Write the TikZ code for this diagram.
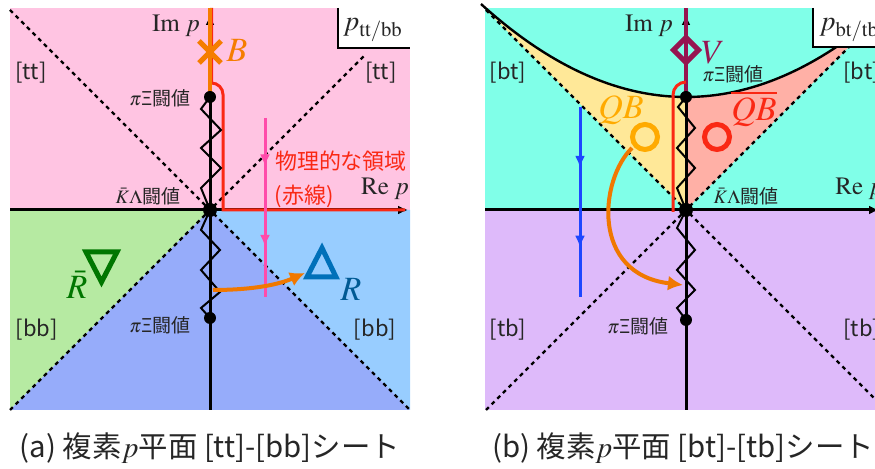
\documentclass[tikz,border=0pt]{standalone}
\usepackage{mathptmx}
\usepackage[no-math]{fontspec}
\setmainfont{Noto Sans CJK JP}
\definecolor{ttpink}{RGB}{255,196,226}
\definecolor{bbgreen}{RGB}{182,234,162}
\definecolor{bbblue}{RGB}{152,205,255}
\definecolor{bbmid}{RGB}{150,172,250}
\definecolor{btcyan}{RGB}{128,255,232}
\definecolor{tbviolet}{RGB}{222,186,250}
\definecolor{qbyellow}{RGB}{255,232,152}
\definecolor{qbsalmon}{RGB}{255,176,166}
\definecolor{physred}{RGB}{250,40,20}
\definecolor{bound}{RGB}{245,125,0}
\definecolor{flowpink}{RGB}{255,75,170}
\definecolor{flowblue}{RGB}{30,70,255}
\definecolor{vmag}{RGB}{150,20,80}
\definecolor{resblue}{RGB}{0,112,185}
\definecolor{resgreen}{RGB}{0,118,0}
\definecolor{qbamber}{RGB}{255,170,0}
\definecolor{pathorange}{RGB}{240,120,0}
\usetikzlibrary{arrows.meta, decorations.markings}

\begin{document}
\begin{tikzpicture}[x=0.5pt, y=0.5pt,
        every node/.style={inner sep=0pt, text=black!85},
        axis/.style={line width=1.5pt, -{Latex[length=5pt, width=4.5pt]}},
        sheetline/.style={line width=1.2pt, dash pattern=on 2pt off 2pt},
        cut/.style={line width=1pt, line join=miter},
        thr/.style={fill=black},
        phys/.style={physred, line width=1.5pt},
        midarrows/.style 2 args={line width=1.5pt, postaction={decorate},
            decoration={markings,
                mark=at position #1 with {\arrow{Latex[length=6pt, width=5pt]}},
                mark=at position #2 with {\arrow{Latex[length=6pt, width=5pt]}}}},
        contin/.style={pathorange, line width=2pt, -{Latex[length=7.5pt, width=7.5pt]}},
        pole/.style={line width=2.5pt},
        sheetlbl/.style={font=\fontsize{11}{13}\selectfont},
        thrlbl/.style={font=\fontsize{9.5}{11}\selectfont},
        axlbl/.style={font=\fontsize{12.5}{14}\selectfont},
        polelbl/.style={font=\fontsize{17}{19}\selectfont},
        caplbl/.style={font=\fontsize{14.7}{17}\selectfont}
    ]
    \useasboundingbox (0,0) rectangle (875,469);
    \clip (0,0) rectangle (875,469);

    % (a) tt/bb sheet
    \begin{scope}[shift={(210,259)}]
        \fill[ttpink] (-200,0) rectangle (200,202);
        \fill[bbgreen] (-200,0) -- (0,0) -- (-200,-200) -- cycle;
        \fill[bbblue] (0,0) -- (200,0) -- (200,-200) -- cycle;
        \fill[bbmid] (0,0) -- (-200,-200) -- (200,-200) -- cycle;

        \draw[sheetline] (-200,200) -- (0,0) -- (156,156);
        \draw[sheetline] (-200,-200) -- (0,0) -- (200,-200);

        \fill[white] (128,162) rectangle (200,202);
        \draw[line width=1pt] (128,202) -- (128,162) -- (200,162);
        \node[font=\fontsize{14}{16}\selectfont] (pa) at (163,180) {$p_{\mathrm{tt/bb}}$};

        \coordinate (Oa) at (0,0);
        \coordinate (PiXia) at (0,113);
        \coordinate (PiXib) at (0,-108);
        \draw[axis] (-200,0) -- (198,0);
        \draw[axis] (0,-200) -- (0,195);

        \draw[phys] (1.5,202) -- (1.5,127) arc[start angle=90, end angle=0, radius=11.5] -- (13,0) -- (195,0);
        \draw[bound, line width=2pt] (PiXia) -- (0,202);

        \draw[cut] (PiXia) -- (-9,101) -- (11,80) -- (-9,62) -- (11,42) -- (-9,22) -- (Oa);
        \draw[cut] (Oa) -- (-9,-20) -- (10,-40) -- (-9,-60) -- (10,-82) -- (-9,-98) -- (PiXib);
        \fill[thr] (PiXia) circle[radius=6];
        \fill[thr] (Oa) circle[radius=7];
        \fill[thr] (PiXib) circle[radius=6];

        \draw[flowpink, midarrows={0.27}{0.72}] (55,92) -- (55,-87);
        \draw[contin] (3,-80) .. controls (45,-80) and (70,-74) .. (95,-63);

        % bound state and resonances
        \draw[bound, pole] (-11,147) -- (11,169) (-11,169) -- (11,147);
        \node[polelbl, text=bound] (B) at (27,160) {$B$};
        \draw[resblue, pole, line join=miter] (112,-38) -- (126,-67) -- (97,-67) -- cycle;
        \node[polelbl, text=resblue!80!black] (R) at (141,-79) {$R$};
        \draw[resgreen, pole, line join=miter] (-124,-42) -- (-93,-42) -- (-108.5,-72) -- cycle;
        \node[polelbl, text=resgreen] (Rbar) at (-133,-75) {$\bar{R}$};

        \node[axlbl] (ImA) at (-34,184) {$\mathrm{Im}\ p$};
        \node[axlbl] (ReA) at (175,21) {$\mathrm{Re}\ p$};
        \node[sheetlbl] (ttL) at (-179,137) {[tt]};
        \node[sheetlbl] (ttR) at (171,137) {[tt]};
        \node[sheetlbl] (bbL) at (-173,-120) {[bb]};
        \node[sheetlbl] (bbR) at (165,-120) {[bb]};
        \node[thrlbl] (thrPiXiA) at (-50,112) {$\pi$Ξ闘値};
        \node[thrlbl] (thrKLA) at (-62,14) {$\bar{K}\Lambda$闘値};
        \node[thrlbl] (thrPiXiB) at (-50,-115) {$\pi$Ξ闘値};
        \node[sheetlbl, text=physred] (physA) at (131,49) {物理的な領域};
        \node[sheetlbl, text=physred] (physB) at (94,14) {(赤線)};
        \node[caplbl] (capA) at (0,-238) {(a) 複素$p$平面 [tt]-[bb]シート};
    \end{scope}

    % (b) bt/tb sheet
    \begin{scope}[shift={(686,259)}]
        \fill[btcyan] (-201,0) rectangle (200,202);
        \fill[tbviolet] (-201,-200) rectangle (200,0);
        \fill[qbyellow] (0,0) -- (-200,200) -- plot[domain=-200:0, samples=60] (\x,{113+(\x/21.26)*(\x/21.26)}) -- cycle;
        \fill[qbsalmon] (0,0) -- (200,200) -- plot[domain=200:0, samples=60] (\x,{113+(\x/21.26)*(\x/21.26)}) -- cycle;
        \draw[line width=1.2pt] plot[domain=-205:200, samples=100] (\x,{113+(\x/21.26)*(\x/21.26)});

        \draw[sheetline] (-200,200) -- (0,0) -- (200,200);
        \draw[sheetline] (-200,-200) -- (0,0) -- (200,-200);

        \fill[white] (127,163) rectangle (200,202);
        \draw[line width=1pt] (127,202) -- (127,163) -- (200,163);
        \node[font=\fontsize{14}{16}\selectfont, anchor=west] (pb) at (133,180) {$p_{\mathrm{bt/tb}}$};

        \coordinate (Ob) at (0,0);
        \coordinate (PiXic) at (0,113);
        \coordinate (PiXid) at (0,-110);
        \draw[axis] (-201,0) -- (193,0);
        \draw[axis] (0,-200) -- (0,195);
        \draw[vmag, line width=2pt] (PiXic) -- (0,202);
        \draw[phys] (0,128) arc[start angle=90, end angle=180, radius=13] -- (-13,-2);

        \draw[cut] (PiXic) -- (-8,103) -- (9,82) -- (-9,62) -- (9,42) -- (-9,22) -- (Ob);
        \draw[cut] (Ob) -- (-9,-18) -- (9,-40) -- (-9,-60) -- (9,-80) -- (-9,-98) -- (PiXid);
        \fill[thr] (PiXic) circle[radius=6];
        \fill[thr] (Ob) circle[radius=7];
        \fill[thr] (PiXid) circle[radius=6];

        \draw[flowblue, midarrows={0.32}{0.74}] (-106,103) -- (-106,-87);

        % virtual state and quasi-bound states
        \draw[vmag, pole, line join=miter] (0,147.5) -- (12.5,160) -- (0,172.5) -- (-12.5,160) -- cycle;
        \node[polelbl, text=vmag] (V) at (27,157) {$V$};
        \draw[qbamber, pole] (-41,73) circle[radius=12.5];
        \node[polelbl, text=qbamber] (QB) at (-65,100) {$QB$};
        \draw[physred, pole] (31,73) circle[radius=12.5];
        \node[polelbl, text=physred] (QBbar) at (68,101) {$\overline{QB}$};
        \draw[contin] (-54,62) .. controls (-86,31) and (-96,-64) .. (-3,-75);

        \node[axlbl] (ImB) at (-37,184) {$\mathrm{Im}\ p$};
        \node[axlbl, anchor=west] (ReB) at (149,21) {$\mathrm{Re}\ p$};
        \node[sheetlbl] (btL) at (-178,137) {[bt]};
        \node[sheetlbl, anchor=west] (btR) at (157,137) {[bt]};
        \node[sheetlbl] (tbL) at (-178,-120) {[tb]};
        \node[sheetlbl, anchor=west] (tbR) at (157,-120) {[tb]};
        \node[thrlbl] (thrPiXiC) at (47,136) {$\pi$Ξ闘値};
        \node[thrlbl] (thrKLB) at (60,14) {$\bar{K}\Lambda$闘値};
        \node[thrlbl] (thrPiXiD) at (-48,-116) {$\pi$Ξ闘値};
        \node[caplbl] (capB) at (-3,-238) {(b) 複素$p$平面 [bt]-[tb]シート};
    \end{scope}
\end{tikzpicture}
\end{document}
